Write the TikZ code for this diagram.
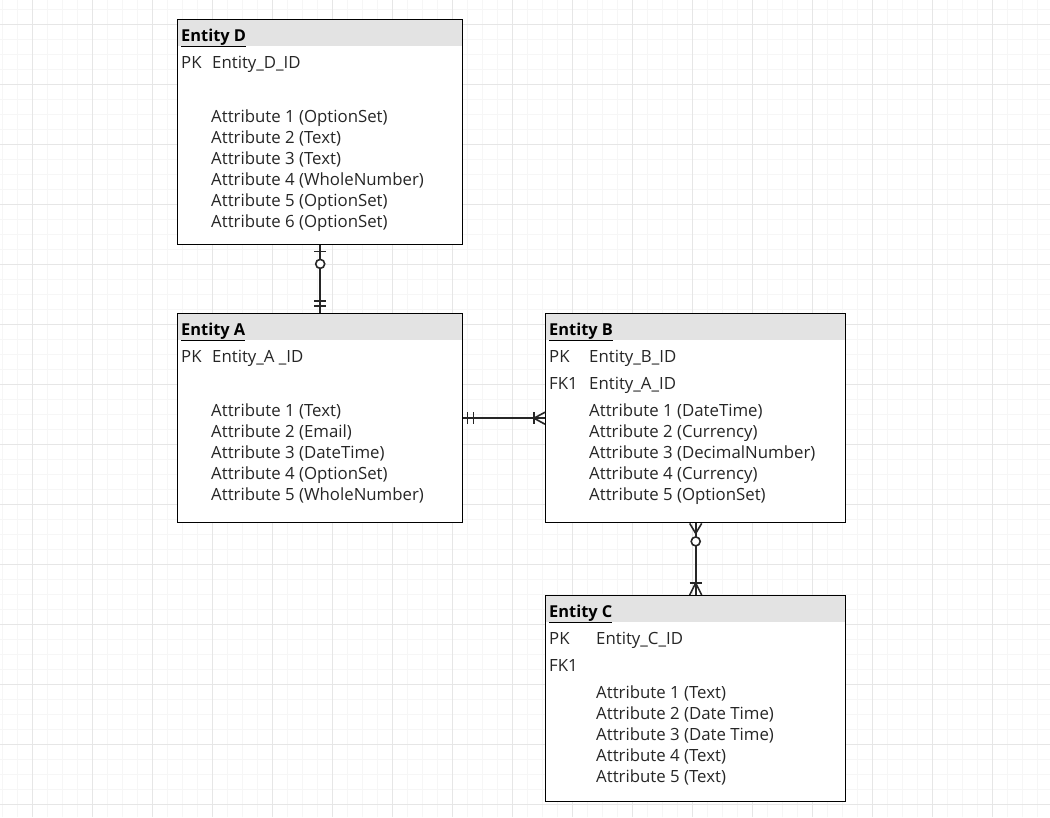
\documentclass[tikz,border=0pt]{standalone}
\usepackage{fontspec}
\setmainfont{Open Sans}
\usetikzlibrary{calc}
\definecolor{hdrgray}{HTML}{E3E3E3}
\definecolor{minorgrid}{HTML}{F6F6F6}
\definecolor{majorgrid}{HTML}{E6E6E6}
\tikzset{
  entity/.style={draw, fill=white, line width=1.4pt, anchor=north west, inner sep=0pt},
  field/.style={anchor=base west, inner sep=0pt, text=black!85, font=\fontsize{16.8}{19}\selectfont},
  title/.style={anchor=base west, inner sep=0pt, font=\fontsize{16.4}{19}\selectfont\bfseries},
  rel/.style={line width=1.6pt, black!85},
}
\begin{document}
\begin{tikzpicture}[x=1pt, y=-1pt]
\useasboundingbox (0,0) rectangle (1050,817);
\fill[white] (0,0) rectangle (1050,817);
\foreach \gx in {2,17,...,1050} \draw[minorgrid, line width=1pt] (\gx,0) -- (\gx,817);
\foreach \gy in {9,24,...,817} \draw[minorgrid, line width=1pt] (0,\gy) -- (1050,\gy);
\foreach \gx in {32,92,...,1050} \draw[majorgrid, line width=1pt] (\gx,0) -- (\gx,817);
\foreach \gy in {24,84,...,817} \draw[majorgrid, line width=1pt] (0,\gy) -- (1050,\gy);

\node[entity, minimum width=285pt, minimum height=225pt] (d) at (177,19) {};
\node[entity, minimum width=285pt, minimum height=209pt] (a) at (177,313) {};
\node[entity, minimum width=300pt, minimum height=209pt] (b) at (545,313) {};
\node[entity, minimum width=300pt, minimum height=206pt] (c) at (545,595) {};
\fill[hdrgray] ($(d.north west)+(1,1)$) rectangle ($(d.north east)+(-1,27)$);
\fill[hdrgray] ($(a.north west)+(1,1)$) rectangle ($(a.north east)+(-1,27)$);
\fill[hdrgray] ($(b.north west)+(1,1)$) rectangle ($(b.north east)+(-1,27)$);
\fill[hdrgray] ($(c.north west)+(1,1)$) rectangle ($(c.north east)+(-1,27)$);

\node[title] (dt) at (181,41) {\underline{Entity D}};
\node[field] (dpk) at (181,68) {PK};
\node[field] (did) at (212,68) {Entity\_D\_ID};
\node[field] (d1) at (211,122) {Attribute 1 (OptionSet)};
\node[field] (d2) at (211,143) {Attribute 2 (Text)};
\node[field] (d3) at (211,164) {Attribute 3 (Text)};
\node[field] (d4) at (211,185) {Attribute 4 (WholeNumber)};
\node[field] (d5) at (211,206) {Attribute 5 (OptionSet)};
\node[field] (d6) at (211,227) {Attribute 6 (OptionSet)};

\node[title] (at) at (181,335) {\underline{Entity A}};
\node[field] (apk) at (181,362) {PK};
\node[field] (aid) at (212,362) {Entity\_A \_ID};
\node[field] (a1) at (211,416) {Attribute 1 (Text)};
\node[field] (a2) at (211,437) {Attribute 2 (Email)};
\node[field] (a3) at (211,458) {Attribute 3 (DateTime)};
\node[field] (a4) at (211,479) {Attribute 4 (OptionSet)};
\node[field] (a5) at (211,500) {Attribute 5 (WholeNumber)};

\node[title] (bt) at (549,335) {\underline{Entity B}};
\node[field] (bpk) at (549,362) {PK};
\node[field] (bid) at (589,362) {Entity\_B\_ID};
\node[field] (bfk) at (549,389) {FK1};
\node[field] (bfid) at (589,389) {Entity\_A\_ID};
\node[field] (b1) at (589,416) {Attribute 1 (DateTime)};
\node[field] (b2) at (589,437) {Attribute 2 (Currency)};
\node[field] (b3) at (589,458) {Attribute 3 (DecimalNumber)};
\node[field] (b4) at (589,479) {Attribute 4 (Currency)};
\node[field] (b5) at (589,500) {Attribute 5 (OptionSet)};

\node[title] (ct) at (549,617) {\underline{Entity C}};
\node[field] (cpk) at (549,644) {PK};
\node[field] (cid) at (596,644) {Entity\_C\_ID};
\node[field] (cfk) at (549,671) {FK1};
\node[field] (c1) at (596,698) {Attribute 1 (Text)};
\node[field] (c2) at (596,719) {Attribute 2 (Date Time)};
\node[field] (c3) at (596,740) {Attribute 3 (Date Time)};
\node[field] (c4) at (596,761) {Attribute 4 (Text)};
\node[field] (c5) at (596,782) {Attribute 5 (Text)};

\draw[rel] (d) -- (a);
\draw[rel] ($(d.south)+(-6,6)$) -- ++(12,0);
\draw[rel, fill=white] ($(d.south)+(0,18.5)$) circle (4.5);
\draw[rel] ($(a.north)+(-6,-12)$) -- ++(12,0);
\draw[rel] ($(a.north)+(-6,-7)$) -- ++(12,0);

\draw[rel] (a) -- (b);
\draw[rel] ($(a.east)+(4,-6)$) -- ++(0,12);
\draw[rel] ($(a.east)+(10,-6)$) -- ++(0,12);
\draw[rel] ($(b.west)+(0,-6)$) -- ($(b.west)+(-11,0)$) -- ($(b.west)+(0,6)$);
\draw[rel] ($(b.west)+(-11,-6)$) -- ++(0,12);

\draw[rel] (b) -- (c);
\draw[rel] ($(b.south)+(-6,0)$) -- ($(b.south)+(0,10)$) -- ($(b.south)+(6,0)$);
\draw[rel, fill=white] ($(b.south)+(0,18)$) circle (4.5);
\draw[rel] ($(c.north)+(-6,0)$) -- ($(c.north)+(0,-12)$) -- ($(c.north)+(6,0)$);
\draw[rel] ($(c.north)+(-6,-12)$) -- ++(12,0);
\end{tikzpicture}
\end{document}
